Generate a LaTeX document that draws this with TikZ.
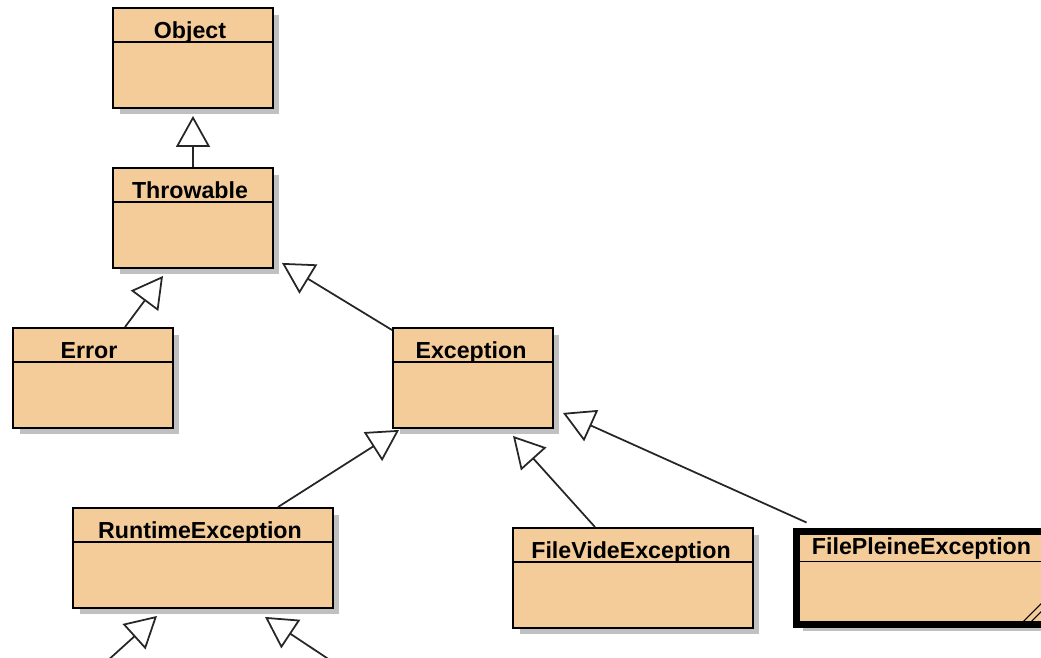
\documentclass[tikz,border=0pt]{standalone}
\usepackage{fontspec}
\setsansfont{Liberation Sans}
\usetikzlibrary{positioning, arrows.meta, calc, shadows}

\definecolor{classfill}{RGB}{244,204,154}
\definecolor{shadowgray}{RGB}{192,192,192}

\begin{document}
\begin{tikzpicture}[
    x=0.02cm, y=-0.02cm,
    font=\sffamily\bfseries\fontsize{13.2}{15}\selectfont,
    % Styles
    cls/.style={draw, fill=classfill, line width=1.1pt, minimum width=3.2cm, minimum height=2cm, inner sep=0pt,
        drop shadow={shadow xshift=0.13cm, shadow yshift=-0.13cm, fill=shadowgray, opacity=1}},
    title/.style={anchor=base, inner sep=0pt},
    sep/.style={line width=0.8pt},
    inherit/.style={-{Triangle[open, length=0.62cm, width=0.68cm]}, line width=1pt, draw=black!85}
]

    \useasboundingbox (0,0) rectangle (1041,658);
    \clip (0,0) rectangle (1041,658);

    % --- CLASSES ---
    \node[cls] (object) at (193,58) {};
    \node[title] (objectT) at ($(object.north)+(-3,31)$) {Object};
    \draw[sep] ($(object.north west)+(0,35)$) -- ($(object.north east)+(0,35)$);

    \node[cls] (throwable) at (193,218) {};
    \node[title] (throwableT) at ($(throwable.north)+(-3,31)$) {Throwable};
    \draw[sep] ($(throwable.north west)+(0,35)$) -- ($(throwable.north east)+(0,35)$);

    \node[cls] (error) at (93,378) {};
    \node[title] (errorT) at ($(error.north)+(-4,31)$) {Error};
    \draw[sep] ($(error.north west)+(0,35)$) -- ($(error.north east)+(0,35)$);

    \node[cls] (exception) at (473,378) {};
    \node[title] (exceptionT) at ($(exception.north)+(-2,31)$) {Exception};
    \draw[sep] ($(exception.north west)+(0,35)$) -- ($(exception.north east)+(0,35)$);

    \node[cls, minimum width=5.2cm] (runtime) at (203,558) {};
    \node[title] (runtimeT) at ($(runtime.north)+(-3,31)$) {RuntimeException};
    \draw[sep] ($(runtime.north west)+(0,35)$) -- ($(runtime.north east)+(0,35)$);

    \node[cls, minimum width=4.8cm] (filevide) at (633,578) {};
    \node[title] (filevideT) at ($(filevide.north)+(-2,31)$) {FileVideException};
    \draw[sep] ($(filevide.north west)+(0,35)$) -- ($(filevide.north east)+(0,35)$);

    % selected class: thick border and resize handle
    \node[cls, line width=0.14cm, minimum width=5cm, minimum height=1.86cm] (filepleine) at (921.5,578) {};
    \node[title] (filepleineT) at ($(filepleine.north)+(0,26.5)$) {FilePleineException};
    \draw[sep] ($(filepleine.north west)+(0,33.5)$) -- ($(filepleine.north east)+(0,33.5)$);
    \draw[line width=0.6pt] ($(filepleine.south east)+(-29.5,-3.5)$) -- ($(filepleine.south east)+(-3.5,-29.5)$);
    \draw[line width=0.6pt] ($(filepleine.south east)+(-21.5,-3.5)$) -- ($(filepleine.south east)+(4.5,-29.5)$);

    % --- INHERITANCE ---
    \draw[inherit] (throwable.north) -- ($(object.south)+(0,7)$);
    \draw[inherit] ($(error.north)+(32,0)$) -- ($(throwable.south)+(-30,7)$);
    \draw[inherit] ($(exception.north west)+(0,3)$) -- ($(throwable.south east)+(8,-6)$);
    \draw[inherit] ($(runtime.north)+(75,0)$) -- ($(exception.south west)+(7,1)$);
    \draw[inherit] ($(filevide.north)+(-38,0)$) -- ($(exception.south)+(40,7)$);
    \draw[inherit] ($(filepleine.north west)+(13.5,-5.5)$) -- ($(exception.south east)+(9,-16)$);

    % subclasses below the visible area
    \coordinate (subA) at (95,672);
    \coordinate (subB) at (348,672);
    \draw[inherit] (subA) -- ($(runtime.south)+(-46,7)$);
    \draw[inherit] (subB) -- ($(runtime.south)+(62,8)$);

\end{tikzpicture}
\end{document}
